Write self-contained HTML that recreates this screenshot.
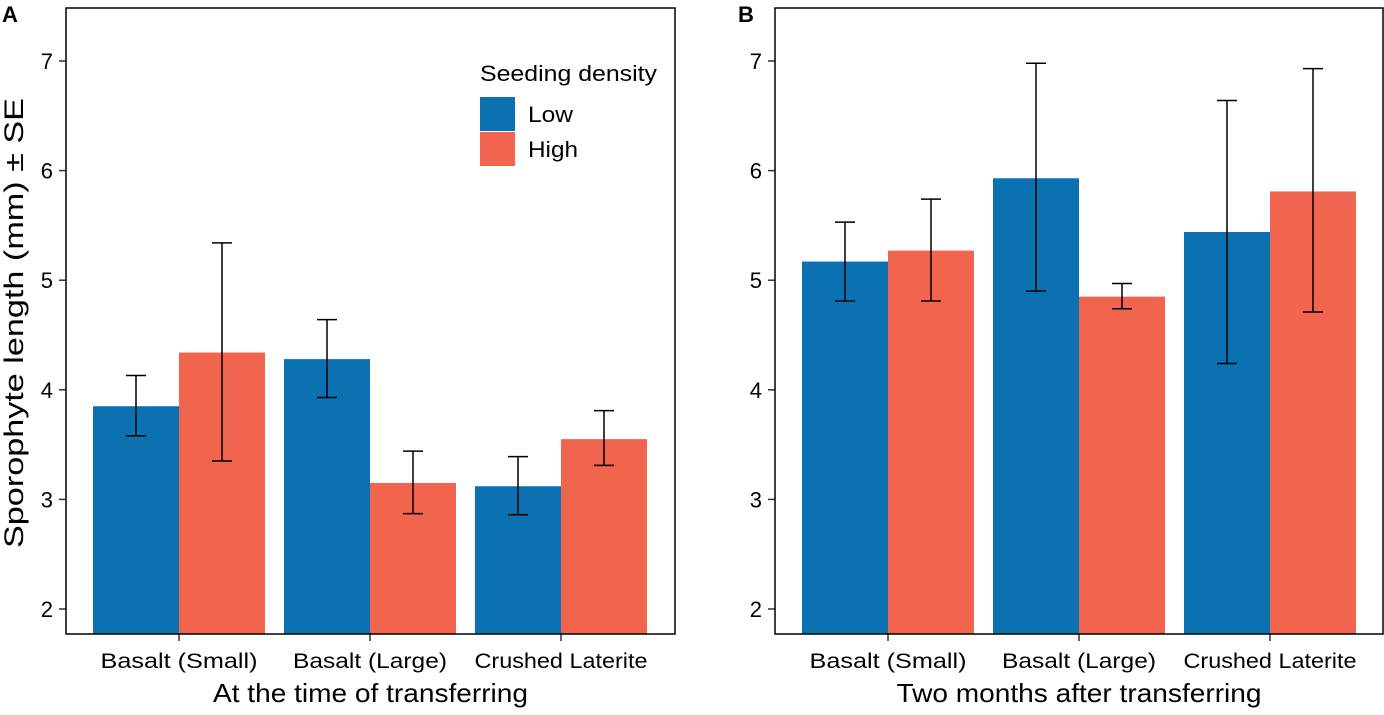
<!DOCTYPE html>
<html><head><meta charset="utf-8"><style>
body{margin:0;background:#fff;}
svg text{font-family:"Liberation Sans",Arial,sans-serif;fill:#000;}
</style></head><body>
<svg id="chart" width="1384" height="710" xmlns="http://www.w3.org/2000/svg"></svg>
<script>
const categories=["Basalt (Small)","Basalt (Large)","Crushed Laterite"];
const catLen=[157,154,173];
const yTicks=[2,3,4,5,6,7];
const aLow=[3.85,4.28,3.12];
const aLowLo=[3.58,3.93,2.86];
const aLowHi=[4.13,4.64,3.39];
const aHigh=[4.34,3.15,3.55];
const aHighLo=[3.35,2.87,3.31];
const aHighHi=[5.34,3.44,3.81];
const bLow=[5.17,5.93,5.44];
const bLowLo=[4.81,4.90,4.24];
const bLowHi=[5.53,6.98,6.64];
const bHigh=[5.27,4.85,5.81];
const bHighLo=[4.81,4.74,4.71];
const bHighHi=[5.74,4.97,6.93];
const BLUE="#0b71b1",RED="#f1654f";
const svg=document.getElementById('chart');
const NS="http://www.w3.org/2000/svg";
function mk(tag,attrs,parent){const e=document.createElementNS(NS,tag);for(const k in attrs)e.setAttribute(k,attrs[k]);(parent||svg).appendChild(e);return e;}
const y=v=>609-(v-2)*109.6;
function panel(id,x0,x1,low,lowLo,lowHi,high,highLo,highHi,xlabel,xlen,letter,letterX){
  const g=mk('g',{});
  
  
  const x=i=>x0+27+86+i*191;
  categories.forEach((c,i)=>{
    const cx=x(i);
    const b1=mk('rect',{x:cx-86,y:y(low[i]),width:86,height:634-y(low[i]),fill:BLUE},g);
    
    
    const b2=mk('rect',{x:cx,y:y(high[i]),width:86,height:634-y(high[i]),fill:RED},g);
    
    
    [[cx-43,lowLo[i],lowHi[i]],[cx+43,highLo[i],highHi[i]]].forEach(([ex,lo,hi])=>{
      const e=mk('path',{d:`M${ex-10},${y(hi)}H${ex+10}M${ex},${y(hi)}V${y(lo)}M${ex-10},${y(lo)}H${ex+10}`,stroke:'#000','stroke-width':1.5,fill:'none'},g);
      
      
    });
    const t=mk('text',{x:cx,y:668,'font-size':21,'text-anchor':'middle',textLength:catLen[i],lengthAdjust:'spacingAndGlyphs'},g);t.textContent=c;
    
    
    mk('line',{x1:cx,x2:cx,y1:634,y2:641,stroke:'#333','stroke-width':1.5},g);
  });
  yTicks.forEach(v=>{
    mk('line',{x1:x0-7,x2:x0,y1:y(v),y2:y(v),stroke:'#333','stroke-width':1.5},g);
    const t=mk('text',{x:x0-13,y:y(v)+8,'font-size':22,'text-anchor':'end'},g);t.textContent=v;
    
    
  });
  const fr=mk('rect',{x:x0,y:8,width:x1-x0,height:626,fill:'none',stroke:'#000','stroke-width':1.5},g);
  
  
  const xl=mk('text',{x:(x0+x1)/2,y:702,'font-size':26,'text-anchor':'middle',textLength:xlen,lengthAdjust:'spacingAndGlyphs'},g);xl.textContent=xlabel;
  
  
  const lt=mk('text',{x:letterX,y:22,'font-size':22,'font-weight':'bold'},g);lt.textContent=letter;
  
  
}
panel('a',66,675,aLow,aLowLo,aLowHi,aHigh,aHighLo,aHighHi,'At the time of transferring',315,'A',2);
panel('b',775,1383,bLow,bLowLo,bLowHi,bHigh,bHighLo,bHighHi,'Two months after transferring',365,'B',738);
const yt=mk('text',{x:0,y:0,'font-size':27,'text-anchor':'middle',textLength:450,lengthAdjust:'spacingAndGlyphs',transform:'translate(23,323) rotate(-90)'});
yt.textContent='Sporophyte length (mm) ± SE';


const lg=mk('g',{});


const lgt=mk('text',{x:480,y:81,'font-size':22,textLength:177,lengthAdjust:'spacingAndGlyphs'},lg);lgt.textContent='Seeding density';
[['Low',BLUE,97,45],['High',RED,132,50]].forEach(([n,c,yy,len])=>{
  const r=mk('rect',{x:480,y:yy,width:35,height:34,fill:c},lg);
  
  
  const t=mk('text',{x:528,y:yy+25,'font-size':22,textLength:len,lengthAdjust:'spacingAndGlyphs'},lg);t.textContent=n;
  
  
});
</script>
</body></html>
